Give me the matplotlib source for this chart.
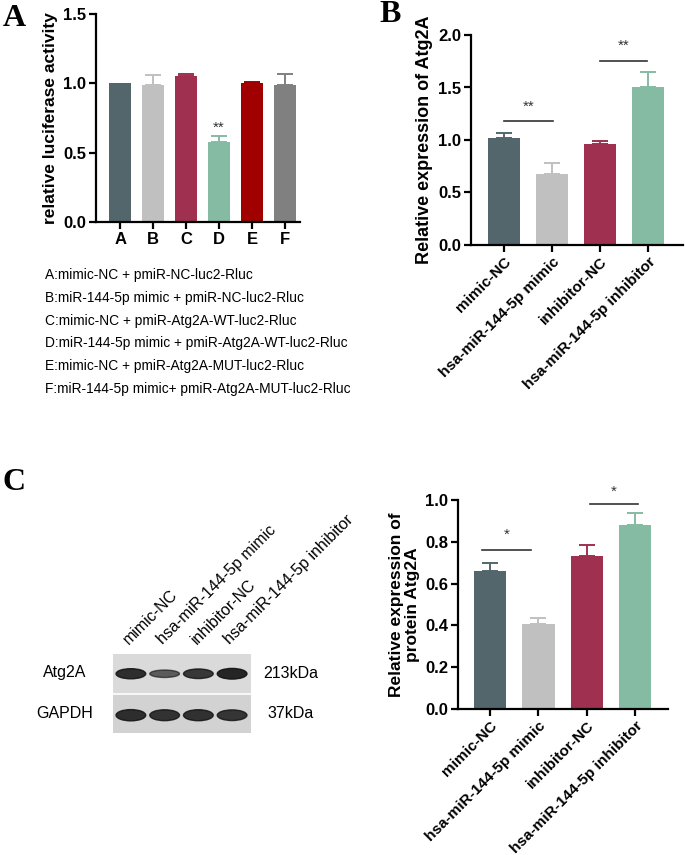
import matplotlib
matplotlib.use('Agg')
from matplotlib import pyplot as plt
from matplotlib.patches import Rectangle, Ellipse

plt.rcParams['font.family'] = ['Liberation Sans', 'DejaVu Sans']

# data
groups_a = ['A', 'B', 'C', 'D', 'E', 'F']
luc_mean = [1.00, 0.99, 1.05, 0.58, 1.00, 0.99]
luc_err = [0.00, 0.07, 0.02, 0.04, 0.01, 0.08]
colors_a = ['#53666c', '#c0c0c0', '#9f3050', '#86bba3', '#a00000', '#808080']

legend_lines = [
    'A:mimic-NC + pmiR-NC-luc2-Rluc',
    'B:miR-144-5p mimic + pmiR-NC-luc2-Rluc',
    'C:mimic-NC + pmiR-Atg2A-WT-luc2-Rluc',
    'D:miR-144-5p mimic + pmiR-Atg2A-WT-luc2-Rluc',
    'E:mimic-NC + pmiR-Atg2A-MUT-luc2-Rluc',
    'F:miR-144-5p mimic+ pmiR-Atg2A-MUT-luc2-Rluc',
]

groups = ['mimic-NC', 'hsa-miR-144-5p mimic', 'inhibitor-NC', 'hsa-miR-144-5p inhibitor']
colors = ['#53666c', '#c0c0c0', '#9f3050', '#86bba3']
mrna_mean = [1.02, 0.68, 0.96, 1.50]
mrna_err = [0.05, 0.10, 0.03, 0.15]
prot_mean = [0.66, 0.405, 0.73, 0.88]
prot_err = [0.04, 0.03, 0.055, 0.06]

# western blot band strength (relative)
atg2a_band = [0.95, 0.7, 0.9, 1.0]
gapdh_band = [0.95, 0.92, 0.93, 0.9]

W, H = 685, 855
fig = plt.figure(figsize=(6.85, 8.55), dpi=100)


def box(x0, y0, x1, y1):
    # pixel box (top-left origin) -> figure fraction
    return [x0 / W, 1 - y1 / H, (x1 - x0) / W, (y1 - y0) / H]


def style(ax):
    for s in ['top', 'right']:
        ax.spines[s].set_visible(False)
    for s in ['left', 'bottom']:
        ax.spines[s].set_linewidth(1.6)
    ax.tick_params(width=1.6, length=5, labelsize=12, pad=2)
    for t in ax.get_yticklabels() + ax.get_xticklabels():
        t.set_fontweight('bold')


def bars(ax, means, errs, cols):
    xs = range(len(means))
    ax.bar(xs, means, width=0.67, color=cols, zorder=2)
    for x, m, e, c in zip(xs, means, errs, cols):
        if e > 0:
            ax.errorbar(x, m, yerr=[[0], [e]], color=c, capsize=5.5,
                        elinewidth=1.4, capthick=1.4, zorder=1)


def sig(ax, x0, x1, y, ty, txt):
    ax.plot([x0, x1], [y, y], color='#333333', lw=1.2)
    ax.text((x0 + x1) / 2, ty, txt, ha='center', va='center', fontsize=11,
            color='#333333')


# panel A
ax1 = fig.add_axes(box(96, 14, 300, 222))
bars(ax1, luc_mean, luc_err, colors_a)
ax1.set_xlim(-0.73, 5.45)
ax1.set_ylim(0, 1.5)
ax1.set_yticks([0.0, 0.5, 1.0, 1.5])
ax1.set_yticklabels(['0.0', '0.5', '1.0', '1.5'])
ax1.set_xticks(range(6))
ax1.set_xticklabels(groups_a)
ax1.set_ylabel('relative luciferase activity', fontsize=12.5, fontweight='bold', labelpad=4)
style(ax1)
ax1.text(3, 0.58 + 0.04 + 0.06, '**', ha='center', va='center', fontsize=11, color='#333333')

for i, line in enumerate(legend_lines):
    fig.text(45 / W, 1 - (275 + i * 22.8) / H, line, fontsize=9.9, va='center')

# panel B
ax2 = fig.add_axes(box(471, 35, 683, 245))
bars(ax2, mrna_mean, mrna_err, colors)
ax2.set_xlim(-0.69, 3.73)
ax2.set_ylim(0, 2.0)
ax2.set_yticks([0.0, 0.5, 1.0, 1.5, 2.0])
ax2.set_yticklabels(['0.0', '0.5', '1.0', '1.5', '2.0'])
ax2.set_xticks(range(4))
ax2.set_xticklabels(groups, rotation=45, ha='right', rotation_mode='anchor')
ax2.set_ylabel('Relative expression of Atg2A', fontsize=13, fontweight='bold', labelpad=4)
style(ax2)
ax2.tick_params(axis='x', labelsize=11)
sig(ax2, 0, 1.02, 1.18, 1.32, '**')
sig(ax2, 2, 2.98, 1.75, 1.90, '**')

# panel C bars
ax3 = fig.add_axes(box(458, 500, 668, 709))
bars(ax3, prot_mean, prot_err, colors)
ax3.set_xlim(-0.66, 3.68)
ax3.set_ylim(0, 1.0)
ax3.set_yticks([0.0, 0.2, 0.4, 0.6, 0.8, 1.0])
ax3.set_yticklabels(['0.0', '0.2', '0.4', '0.6', '0.8', '1.0'])
ax3.set_xticks(range(4))
ax3.set_xticklabels(groups, rotation=45, ha='right', rotation_mode='anchor')
ax3.set_ylabel('Relative expression of\nprotein Atg2A', fontsize=12.5, fontweight='bold',
               labelpad=4, linespacing=1.1)
style(ax3)
ax3.tick_params(axis='x', labelsize=11)
sig(ax3, -0.16, 0.84, 0.76, 0.835, '*')
sig(ax3, 2.06, 3.06, 0.98, 1.04, '*')

# panel C western blot
axw = fig.add_axes(box(113, 654, 251, 733))
axw.set_xlim(-0.53, 3.56)
axw.set_ylim(0, 2)
axw.axis('off')
axw.add_patch(Rectangle((-0.53, 1.03), 4.09, 0.97, color='#dadada'))
axw.add_patch(Rectangle((-0.53, 0), 4.09, 0.97, color='#d2d2d2'))
for i, (a, g) in enumerate(zip(atg2a_band, gapdh_band)):
    axw.add_patch(Ellipse((i, 1.5), 0.88, 0.27 * a, color='#111111', alpha=0.9 * a))
    axw.add_patch(Ellipse((i, 0.45), 0.88, 0.3 * g, color='#111111', alpha=0.9 * g))
for i, name in enumerate(groups):
    cx = 131 + 33.7 * i
    fig.text((cx - 2) / W, 1 - 645 / H, name, rotation=45, fontsize=11.5,
             ha='left', va='baseline', rotation_mode='anchor')
fig.text(65 / W, 1 - 673 / H, 'Atg2A', fontsize=11.5, ha='center', va='center')
fig.text(65 / W, 1 - 713 / H, 'GAPDH', fontsize=11.5, ha='center', va='center')
fig.text(263 / W, 1 - 673 / H, '213kDa', fontsize=11.5, ha='left', va='center')
fig.text(267 / W, 1 - 713 / H, '37kDa', fontsize=11.5, ha='left', va='center')

# panel letters
for lx, ly, letter in [(3, 18, 'A'), (379, 15, 'B'), (3, 482, 'C')]:
    fig.text(lx / W, 1 - ly / H, letter, fontsize=23, fontweight='bold',
             family='Liberation Serif', va='center')

plt.savefig('out.png', dpi=100)
